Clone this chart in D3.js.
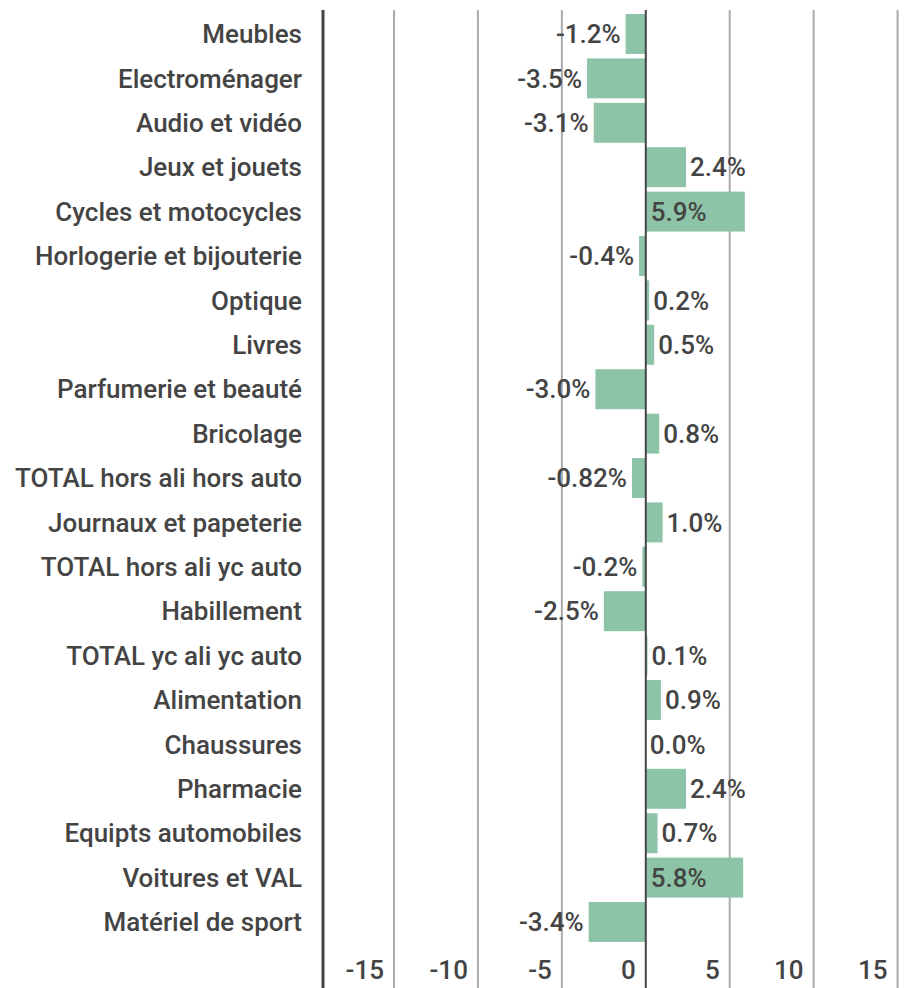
<!DOCTYPE html>
<html>
<head>
<meta charset="utf-8">
<script src="https://cdn.jsdelivr.net/npm/d3@7"></script>
<style>
  body { margin: 0; background: #fff; }
  text { font-family: Roboto, "Noto Sans", sans-serif; fill: #444; }
</style>
</head>
<body>
<div id="chart"></div>
<script>
const categories = [
  "Meubles", "Electroménager", "Audio et vidéo", "Jeux et jouets",
  "Cycles et motocycles", "Horlogerie et bijouterie", "Optique", "Livres",
  "Parfumerie et beauté", "Bricolage", "TOTAL hors ali hors auto",
  "Journaux et papeterie", "TOTAL hors ali yc auto", "Habillement",
  "TOTAL yc ali yc auto", "Alimentation", "Chaussures", "Pharmacie",
  "Equipts automobiles", "Voitures et VAL", "Matériel de sport"
];
const values = [
  -1.2, -3.5, -3.1, 2.4, 5.9, -0.4, 0.2, 0.5, -3.0, 0.8, -0.82,
  1.0, -0.2, -2.5, 0.1, 0.9, 0.0, 2.4, 0.7, 5.8, -3.4
];
const ticks = [-15, -10, -5, 0, 5, 10, 15];

const width = 912, height = 988;
const fontSize = '26px';
const data = categories.map((c, i) => ({ cat: c, v: values[i] }));

const svg = d3.select('#chart').append('svg')
    .attr('width', width)
    .attr('height', height);

// echelles
const x = d3.scaleLinear()
    .domain([-19.23, 15.8])
    .range([323, 911]);

const y = d3.scaleBand()
    .domain(categories)
    .range([11.8, 944.2])
    .paddingInner(0.1)
    .paddingOuter(0.05);

const fmt = v => (Math.round(v * 10) === v * 10 ? v.toFixed(1) : v.toFixed(2)) + '%';

// grille
svg.append('g')
  .selectAll('line')
  .data(ticks.filter(t => t !== 0))
  .enter().append('line')
    .attr('x1', d => x(d)).attr('x2', d => x(d))
    .attr('y1', 10).attr('y2', height)
    .attr('stroke', '#aaa')
    .attr('stroke-width', 2);

// labels de l'axe du bas
svg.append('g')
  .selectAll('text')
  .data(ticks)
  .enter().append('text')
    .attr('x', d => x(d) - 10)
    .attr('y', 979)
    .attr('text-anchor', 'end')
    .style('font-size', fontSize)
    .style('font-weight', 500)
    .text(d => d);

// barres
svg.append('g')
  .selectAll('rect')
  .data(data)
  .enter().append('rect')
    .attr('x', d => x(Math.min(0, d.v)))
    .attr('y', d => y(d.cat))
    .attr('width', d => Math.abs(x(d.v) - x(0)))
    .attr('height', y.bandwidth())
    .attr('fill', '#8dc4a7');

// ligne zero
svg.append('line')
    .attr('x1', x(0)).attr('x2', x(0))
    .attr('y1', 10).attr('y2', height)
    .attr('stroke', '#444')
    .attr('stroke-width', 2);

// axe gauche
svg.append('line')
    .attr('x1', x.range()[0]).attr('x2', x.range()[0])
    .attr('y1', 10).attr('y2', height)
    .attr('stroke', '#444')
    .attr('stroke-width', 3);

// categories
svg.append('g')
  .selectAll('text')
  .data(data)
  .enter().append('text')
    .attr('x', 302)
    .attr('y', d => y(d.cat) + y.bandwidth() / 2)
    .attr('dy', '0.35em')
    .attr('text-anchor', 'end')
    .style('font-size', fontSize)
    .style('font-weight', 500)
    .text(d => d.cat);

// valeurs
svg.append('g')
  .selectAll('text')
  .data(data)
  .enter().append('text')
    .attr('x', d => {
      if (d.v < 0) return x(d.v) - 5;
      if (x(d.v) - x(0) > 70) return x(0) + 5;
      return x(d.v) + 4;
    })
    .attr('y', d => y(d.cat) + y.bandwidth() / 2)
    .attr('dy', '0.35em')
    .attr('text-anchor', d => d.v < 0 ? 'end' : 'start')
    .style('font-size', fontSize)
    .style('font-weight', 500)
    .text(d => fmt(d.v));
</script>
</body>
</html>
